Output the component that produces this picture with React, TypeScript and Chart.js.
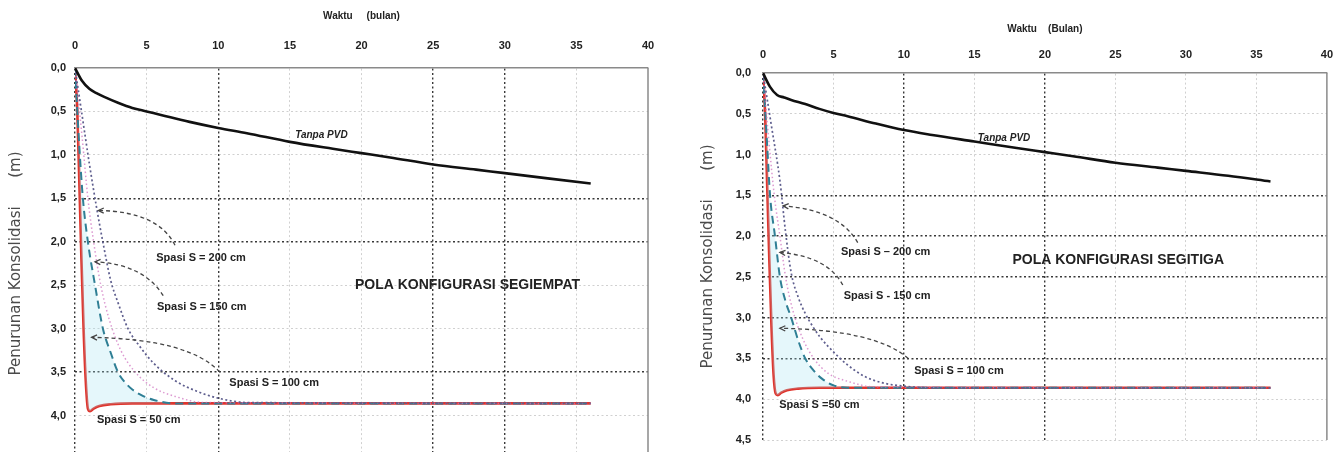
import React, { useEffect, useRef } from "react";
import { Chart, registerables } from "chart.js";

Chart.register(...registerables);

// ---------- axis ticks ----------
const X_TICKS = [0, 5, 10, 15, 20, 25, 30, 35, 40];
const Y_TICK_LABELS = ["0,0", "0,5", "1,0", "1,5", "2,0", "2,5", "3,0", "3,5", "4,0", "4,5"];

// ---------- Tanpa PVD ----------
const TANPA_X = [0, 0.5, 1, 1.5, 2, 3, 4, 5, 6, 8, 10, 12, 15, 18, 20, 22, 25, 28, 30, 33, 36];
const TANPA_SEGIEMPAT = [0, 0.15, 0.24, 0.29, 0.33, 0.4, 0.46, 0.5, 0.54, 0.62, 0.69, 0.75, 0.85, 0.93, 0.98, 1.03, 1.11, 1.17, 1.21, 1.27, 1.33];
const TANPA_SEGITIGA = [0, 0.17, 0.27, 0.3, 0.33, 0.38, 0.44, 0.49, 0.53, 0.62, 0.7, 0.76, 0.84, 0.92, 0.97, 1.02, 1.1, 1.16, 1.2, 1.26, 1.33];

// ---------- Spasi S = 50 cm ----------
const S50_X = [0, 0.15, 0.3, 0.45, 0.6, 0.75, 0.9, 1.05, 1.3, 1.7, 2.5, 4, 36];
const S50_SEGIEMPAT = [0, 0.45, 1.3, 2.2, 3.0, 3.6, 3.92, 3.95, 3.92, 3.89, 3.87, 3.86, 3.86];
const S50_SEGITIGA = [0, 0.5, 1.4, 2.3, 3.1, 3.7, 3.93, 3.95, 3.92, 3.89, 3.87, 3.86, 3.86];

// ---------- Spasi S = 100 cm ----------
const S100_X_SEGIEMPAT = [0, 0.3, 0.55, 0.9, 1.4, 1.95, 2.5, 3.0, 3.5, 4.0, 4.7, 5.5, 7, 36];
const S100_SEGIEMPAT = [0, 0.9, 1.5, 2.0, 2.5, 3.0, 3.28, 3.5, 3.62, 3.7, 3.77, 3.82, 3.86, 3.86];
const S100_X_SEGITIGA = [0, 0.3, 0.5, 0.85, 1.2, 1.6, 2.0, 2.5, 3.0, 3.6, 4.2, 5.0, 6, 36];
const S100_SEGITIGA = [0, 0.9, 1.5, 2.0, 2.5, 2.8, 3.0, 3.28, 3.5, 3.65, 3.75, 3.83, 3.86, 3.86];

// ---------- Spasi S = 150 cm ----------
const S150_X_SEGIEMPAT = [0, 0.5, 0.9, 1.3, 1.8, 2.4, 3.2, 4.2, 5.5, 7, 9, 36];
const S150_SEGIEMPAT = [0, 0.8, 1.5, 2.0, 2.5, 2.9, 3.25, 3.5, 3.68, 3.78, 3.85, 3.86];
const S150_X_SEGITIGA = [0, 0.4, 0.8, 1.2, 1.6, 2.1, 2.8, 3.6, 4.6, 6, 8, 36];
const S150_SEGITIGA = [0, 0.8, 1.5, 2.0, 2.5, 2.9, 3.25, 3.5, 3.68, 3.78, 3.85, 3.86];

// ---------- Spasi S = 200 cm ----------
const S200_X_SEGIEMPAT = [0, 0.5, 1.0, 1.5, 2.0, 2.5, 3.0, 3.7, 4.5, 5.5, 7.0, 8.5, 10, 12, 36];
const S200_SEGIEMPAT = [0, 0.55, 1.1, 1.6, 2.05, 2.45, 2.7, 3.0, 3.2, 3.4, 3.6, 3.72, 3.8, 3.85, 3.86];
const S200_X_SEGITIGA = [0, 0.6, 1.2, 1.6, 2.0, 2.5, 3.0, 3.5, 4.1, 5.0, 6.0, 7.2, 8.5, 10, 12, 36];
const S200_SEGITIGA = [0, 0.65, 1.32, 1.95, 2.45, 2.75, 2.95, 3.1, 3.25, 3.42, 3.58, 3.72, 3.8, 3.84, 3.86, 3.86];

const zip = (xs: number[], ys: number[]) => xs.map((x, i) => ({ x, y: ys[i] }));

const FONT = "'Liberation Sans', 'DejaVu Sans', sans-serif";

// annotation drawing plugin (text + dashed pointer arrows, in data coordinates)
const notesPlugin = {
  id: "notes",
  afterDatasetsDraw(chart: any, _args: any, opts: any) {
    const { ctx, scales } = chart;
    const xs = scales.x;
    const ys = scales.y;
    const px = (v: number) => xs.getPixelForValue(v);
    const py = (v: number) => ys.getPixelForValue(v);
    ctx.save();
    for (const a of opts.arrows || []) {
      const sx = px(a.from[0]), sy = py(a.from[1]);
      const cx = px(a.ctrl[0]), cy = py(a.ctrl[1]);
      const ex = px(a.to[0]), ey = py(a.to[1]);
      ctx.setLineDash([4, 3]);
      ctx.strokeStyle = "#444";
      ctx.lineWidth = 1.3;
      ctx.beginPath();
      ctx.moveTo(sx, sy);
      ctx.quadraticCurveTo(cx, cy, ex, ey);
      ctx.stroke();
      ctx.setLineDash([]);
      const ang = Math.atan2(ey - cy, ex - cx);
      const L = 6;
      ctx.beginPath();
      ctx.moveTo(ex + L * Math.cos(ang + Math.PI - 0.45), ey + L * Math.sin(ang + Math.PI - 0.45));
      ctx.lineTo(ex, ey);
      ctx.lineTo(ex + L * Math.cos(ang + Math.PI + 0.45), ey + L * Math.sin(ang + Math.PI + 0.45));
      ctx.stroke();
    }
    for (const t of opts.texts || []) {
      ctx.font = t.font;
      ctx.fillStyle = "#222";
      ctx.textAlign = "center";
      ctx.textBaseline = "middle";
      ctx.fillText(t.text, px(t.x), py(t.y));
    }
    ctx.restore();
  },
};

const framePlugin = {
  id: "frame",
  afterDatasetsDraw(chart: any) {
    const { ctx, chartArea } = chart;
    ctx.save();
    ctx.strokeStyle = "#8a8a8a";
    ctx.lineWidth = 1.5;
    ctx.beginPath();
    ctx.moveTo(chartArea.right, chartArea.top);
    ctx.lineTo(chartArea.right, chartArea.bottom);
    ctx.stroke();
    ctx.restore();
  },
};

const LABEL_FONT = `bold 11px ${FONT}`;
const POLA_FONT = `bold 14px ${FONT}`;
const TANPA_FONT = `italic bold 10px ${FONT}`;

type PanelCfg = {
  width: number;
  height: number;
  pad: { top: number; left: number; right: number; bottom: number };
  xAxisH: number;
  yAxisW: number;
  xTitle: string;
  xTitlePad: number;
  xTickPad: number;
  yTitlePad: number;
  yTickPad: number;
  darkX: number[];
  darkY: number[];
  tanpa: number[];
  s50: number[];
  s100x: number[];
  s100: number[];
  s150x: number[];
  s150: number[];
  s200x: number[];
  s200: number[];
  texts: any[];
  arrows: any[];
};

const LEFT: PanelCfg = {
  width: 672,
  height: 476,
  pad: { top: 0, left: 0, right: 24, bottom: 17 },
  xAxisH: 68,
  yAxisW: 75,
  xTitle: "Waktu     (bulan)",
  xTitlePad: 10,
  xTickPad: 15,
  yTitlePad: 7,
  yTickPad: 9,
  darkX: [0, 10, 25, 30],
  darkY: [1.5, 2, 3.5],
  tanpa: TANPA_SEGIEMPAT,
  s50: S50_SEGIEMPAT,
  s100x: S100_X_SEGIEMPAT,
  s100: S100_SEGIEMPAT,
  s150x: S150_X_SEGIEMPAT,
  s150: S150_SEGIEMPAT,
  s200x: S200_X_SEGIEMPAT,
  s200: S200_SEGIEMPAT,
  texts: [
    { text: "Tanpa PVD", x: 17.2, y: 0.77, font: TANPA_FONT },
    { text: "Spasi S = 200 cm", x: 8.8, y: 2.19, font: LABEL_FONT },
    { text: "Spasi S = 150 cm", x: 8.85, y: 2.75, font: LABEL_FONT },
    { text: "Spasi S = 100 cm", x: 13.9, y: 3.62, font: LABEL_FONT },
    { text: "Spasi S = 50 cm", x: 4.45, y: 4.05, font: LABEL_FONT },
    { text: "POLA KONFIGURASI SEGIEMPAT", x: 27.4, y: 2.5, font: POLA_FONT },
  ],
  arrows: [
    { from: [6.98, 2.04], ctrl: [5.8, 1.65], to: [1.63, 1.64] },
    { from: [6.16, 2.62], ctrl: [4.8, 2.26], to: [1.4, 2.23] },
    { from: [10.1, 3.5], ctrl: [8.0, 3.12], to: [1.16, 3.1] },
  ],
};

const RIGHT: PanelCfg = {
  width: 672,
  height: 452,
  pad: { top: 0, left: 0, right: 14, bottom: 12 },
  xAxisH: 73,
  yAxisW: 91,
  xTitle: "Waktu    (Bulan)",
  xTitlePad: 23,
  xTickPad: 11,
  yTitlePad: 27,
  yTickPad: 12,
  darkX: [0, 10, 20],
  darkY: [1.5, 2, 2.5, 3, 3.5],
  tanpa: TANPA_SEGITIGA,
  s50: S50_SEGITIGA,
  s100x: S100_X_SEGITIGA,
  s100: S100_SEGITIGA,
  s150x: S150_X_SEGITIGA,
  s150: S150_SEGITIGA,
  s200x: S200_X_SEGITIGA,
  s200: S200_SEGITIGA,
  texts: [
    { text: "Tanpa PVD", x: 17.1, y: 0.8, font: TANPA_FONT },
    { text: "Spasi S – 200 cm", x: 8.7, y: 2.19, font: LABEL_FONT },
    { text: "Spasi S - 150 cm", x: 8.8, y: 2.74, font: LABEL_FONT },
    { text: "Spasi S = 100 cm", x: 13.9, y: 3.65, font: LABEL_FONT },
    { text: "Spasi S =50 cm", x: 4.0, y: 4.07, font: LABEL_FONT },
    { text: "POLA KONFIGURASI SEGITIGA", x: 25.2, y: 2.3, font: POLA_FONT },
  ],
  arrows: [
    { from: [6.72, 2.08], ctrl: [5.4, 1.68], to: [1.43, 1.63] },
    { from: [5.66, 2.6], ctrl: [4.6, 2.25], to: [1.2, 2.2] },
    { from: [10.3, 3.5], ctrl: [8.0, 3.15], to: [1.2, 3.13] },
  ],
};

const DARK = "rgba(35,35,35,0.9)";
const LIGHT = "rgba(150,150,150,0.45)";

function Panel({ cfg, left }: { cfg: PanelCfg; left: number }) {
  const ref = useRef<HTMLCanvasElement | null>(null);
  useEffect(() => {
    if (!ref.current) return;
    const isDark = (arr: number[], v: number) => arr.some((d) => Math.abs(d - v) < 1e-6);
    const chart = new Chart(ref.current, {
      type: "line",
      data: {
        datasets: [
          {
            label: "Tanpa PVD",
            data: zip(TANPA_X, cfg.tanpa),
            borderColor: "#111",
            borderWidth: 2.6,
            pointRadius: 0,
            fill: false,
            cubicInterpolationMode: "monotone",
          },
          {
            label: "Spasi S = 200 cm",
            data: zip(cfg.s200x, cfg.s200),
            borderColor: "#5e5e8e",
            borderWidth: 1.7,
            borderDash: [2, 2.5],
            pointRadius: 0,
            fill: false,
            cubicInterpolationMode: "monotone",
          },
          {
            label: "Spasi S = 150 cm",
            data: zip(cfg.s150x, cfg.s150),
            borderColor: "rgba(205,110,190,0.7)",
            borderWidth: 1.5,
            borderDash: [1.5, 2.5],
            pointRadius: 0,
            fill: false,
            cubicInterpolationMode: "monotone",
          },
          {
            label: "Spasi S = 100 cm",
            data: zip(cfg.s100x, cfg.s100),
            borderColor: "#2f7f95",
            borderWidth: 2,
            borderDash: [8, 5],
            pointRadius: 0,
            fill: "+1",
            backgroundColor: "rgba(160,228,240,0.28)",
            cubicInterpolationMode: "monotone",
          },
          {
            label: "Spasi S = 50 cm",
            data: zip(S50_X, cfg.s50),
            borderColor: "#e0342c",
            borderWidth: 2.6,
            pointRadius: 0,
            fill: false,
            cubicInterpolationMode: "monotone",
          },
        ],
      },
      options: {
        responsive: false,
        animation: false,
        layout: { padding: cfg.pad },
        plugins: {
          legend: { display: false },
          tooltip: { enabled: false },
          // @ts-ignore
          notes: { texts: cfg.texts, arrows: cfg.arrows },
        },
        scales: {
          x: {
            type: "linear",
            position: "top",
            min: 0,
            max: 40,
            afterBuildTicks: (s: any) => {
              s.ticks = X_TICKS.map((v) => ({ value: v }));
            },
            ticks: {
              padding: cfg.xTickPad,
              autoSkip: false,
              maxRotation: 0,
              color: "#222",
              font: { family: FONT, size: 11, weight: "bold" },
              callback: (v: any) => String(v),
            },
            title: {
              display: true,
              text: cfg.xTitle,
              color: "#222",
              font: { family: FONT, size: 10, weight: "bold" },
              padding: { top: cfg.xTitlePad, bottom: 0 },
            },
            grid: {
              drawTicks: false,
              color: (c: any) => (c.tick && isDark(cfg.darkX, c.tick.value) ? DARK : c.tick && c.tick.value === 40 ? "rgba(0,0,0,0)" : LIGHT),
              lineWidth: (c: any) => (c.tick && isDark(cfg.darkX, c.tick.value) ? 1.4 : 1),
            },
            border: { display: true, color: "#8a8a8a", width: 1.6, dash: [2, 2.5] },
            afterFit: (s: any) => {
              s.height = cfg.xAxisH;
            },
          },
          y: {
            type: "linear",
            reverse: true,
            min: 0,
            max: 4.5,
            ticks: {
              stepSize: 0.5,
              padding: cfg.yTickPad,
              color: "#222",
              font: { family: FONT, size: 11, weight: "bold" },
              callback: (v: any) => Y_TICK_LABELS[Math.round(Number(v) / 0.5)],
            },
            title: {
              display: true,
              text: "Penurunan Konsolidasi      (m)",
              color: "#4a4a4a",
              font: { family: "'DejaVu Sans', sans-serif", size: 15 },
              padding: { top: cfg.yTitlePad, bottom: 0 },
            },
            grid: {
              drawTicks: false,
              color: (c: any) => (c.tick && isDark(cfg.darkY, c.tick.value) ? DARK : c.tick && c.tick.value === 0 ? "rgba(0,0,0,0)" : LIGHT),
              lineWidth: (c: any) => (c.tick && isDark(cfg.darkY, c.tick.value) ? 1.4 : 1),
            },
            border: { display: false, dash: [2, 2.5] },
            afterFit: (s: any) => {
              s.width = cfg.yAxisW;
              s.paddingBottom = 0;
              s.paddingTop = 0;
            },
          },
        },
      },
      plugins: [notesPlugin, framePlugin],
    } as any);
    return () => chart.destroy();
  }, [cfg]);
  return (
    <canvas
      ref={ref}
      width={cfg.width}
      height={cfg.height}
      style={{ position: "absolute", left, top: 0, width: cfg.width, height: cfg.height }}
    />
  );
}

export default function App() {
  return (
    <div
      style={{
        position: "fixed",
        left: 0,
        top: 0,
        width: 1344,
        height: 452,
        overflow: "hidden",
        background: "#fff",
      }}
    >
      <Panel cfg={LEFT} left={0} />
      <Panel cfg={RIGHT} left={672} />
    </div>
  );
}
